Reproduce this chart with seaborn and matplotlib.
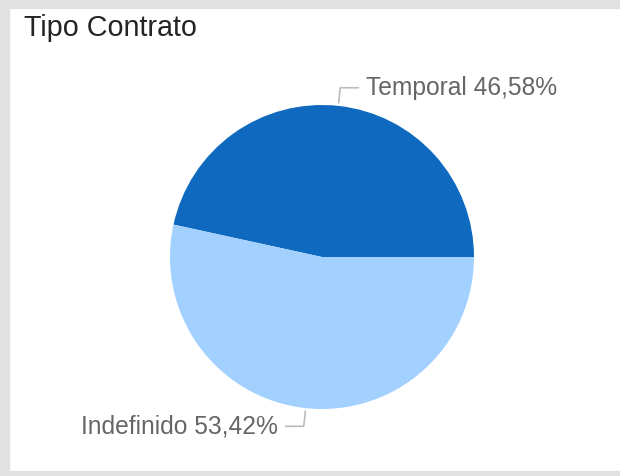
import numpy as np
import matplotlib
matplotlib.use("Agg")
import matplotlib.pyplot as plt
from matplotlib.patches import Rectangle
import seaborn as sns

# Data
categories = ["Temporal", "Indefinido"]
percentages = [46.58, 53.42]
title = "Tipo Contrato"

sns.set_theme(style="white")
plt.rcParams['font.family'] = ['Liberation Sans', 'DejaVu Sans']

colors = ["#0F6ABF", "#A3D1FF"]

W, H = 620, 476
fig = plt.figure(figsize=(W / 100, H / 100), dpi=100)
fig.patch.set_facecolor("white")

# frame bands
band = "#E1E1E1"
fig.add_artist(Rectangle((0, 1 - 8 / H), 1, 8 / H, transform=fig.transFigure, color=band, zorder=0))
fig.add_artist(Rectangle((0, 0), 9 / W, 1, transform=fig.transFigure, color=band, zorder=0))
fig.add_artist(Rectangle((0, 0), 1, 5 / H, transform=fig.transFigure, color=band, zorder=0))

cx, cy, r = 322, 257, 152
ax = fig.add_axes([(cx - r) / W, (H - cy - r) / H, 2 * r / W, 2 * r / H])
wedges, _ = ax.pie(percentages, colors=colors, startangle=0, counterclock=True,
                   wedgeprops=dict(linewidth=0))
ax.set_xlim(-1, 1)
ax.set_ylim(-1, 1)
ax.set_aspect("equal")
ax.axis("off")

for w, cat, p in zip(wedges, categories, percentages):
    th = np.deg2rad((w.theta1 + w.theta2) / 2)
    c, s = np.cos(th), np.sin(th)
    x0, y0 = 1.02 * c, 1.02 * s
    x1, y1 = 1.12 * c, 1.12 * s
    sgn = 1 if c >= 0 else -1
    x2 = x1 + sgn * 0.12
    ax.plot([x0, x1, x2], [y0, y1, y1], color="#BBBBBB", lw=1.2, clip_on=False)
    label = f"{cat} {p:.2f}%".replace(".", ",")
    ax.text(x2 + sgn * 0.05, y1 - 0.047, label, ha="left" if sgn > 0 else "right",
            va="baseline", fontsize=17.7, color="#666666")

fig.text(24 / W, 1 - 36 / H, title, ha="left", va="baseline", fontsize=20.7, color="#252423")

fig.savefig("out.png", dpi=100, facecolor="white")
